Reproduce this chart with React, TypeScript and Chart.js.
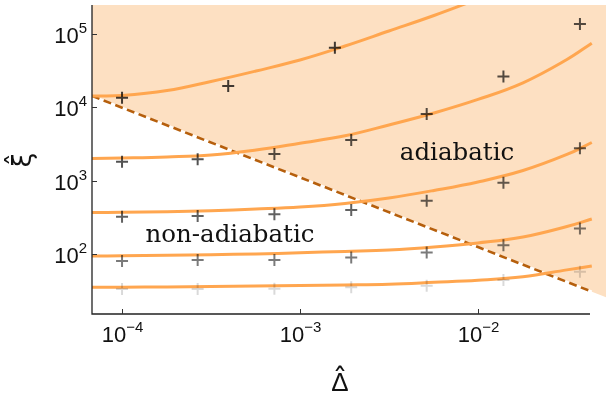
import React, { useEffect, useRef } from 'react';
import { Chart, registerables } from 'chart.js';

Chart.register(...registerables);

// Axis ranges (log-log)
const X_MIN = 6.78e-5;
const X_MAX = 5.24e-2;
const X_AXIS_END = 4.26e-2;
const Y_MIN = 15.1;
const Y_MAX = 2.49e5;

// Tick values
const xTickValues = [1e-4, 1e-3, 1e-2];
const xTickExps = ['\u22124', '\u22123', '\u22122'];
const yTickValues = [1e2, 1e3, 1e4, 1e5];
const yTickExps = ['2', '3', '4', '5'];

// Simulation markers
const markerX = [1e-4, 2.66e-4, 7.18e-4, 1.94e-3, 5.15e-3, 1.39e-2, 3.74e-2];
const row1X = [1e-4, 3.95e-4, 1.57e-3];
const row1Y = [1.35e4, 1.95e4, 6.5e4];
const row2Y = [1810, 1955, 2305, 3580, 8110, 2.63e4, 1.37e5];
const row3Y = [321, 329, 347, 397, 532, 936, 2760];
const row4Y = [80, 82.6, 82.6, 88.8, 104, 131, 221];
const row5Y = [33.2, 33.2, 33.5, 35.0, 36.8, 44.0, 57.1];

// Theory curves (read at regular positions)
const curve1X = [6.78e-5, 1e-4, 1.79e-4, 3.16e-4, 5.66e-4, 1e-3, 1.79e-3, 3.16e-3, 5.66e-3, 1e-2];
const curve1Y = [1.43e4, 1.45e4, 1.69e4, 2.25e4, 3.13e4, 4.42e4, 6.86e4, 1.1e5, 1.79e5, 3.0e5];
const curveX = [6.78e-5, 1e-4, 1.79e-4, 3.16e-4, 5.66e-4, 1e-3, 1.79e-3, 3.16e-3, 5.66e-3, 1e-2, 1.79e-2, 3.16e-2, 4.36e-2];
const curve2Y = [2000, 2030, 2100, 2230, 2610, 3230, 4080, 5740, 8360, 1.28e4, 2.16e4, 4.49e4, 7.5e4];
const curve3Y = [367, 369, 375, 388, 409, 436, 488, 579, 733, 957, 1370, 2270, 3310];
const curve4Y = [93.5, 94, 95.6, 97.5, 99.6, 103.5, 108, 113, 124, 141, 170, 236, 299];
const curve5Y = [35.0, 35.1, 35.3, 35.8, 36.4, 37.1, 37.7, 38.6, 40.9, 43.6, 48.7, 60.4, 68.4];

// Boundary line
const dashX = [6.78e-5, 4.36e-2];
const dashY = [1.43e4, 30.5];
const fillX = [6.78e-5, 5.24e-2];
const fillY = [1.43e4, 25.6];

const zip = (xs: number[], ys: number[]) => xs.map((x, i) => ({ x, y: ys[i] }));

const SHADE = '#fde0c2';
const CURVE = '#ffa64f';
const DASH = '#b65f0c';

const NUM_FONT = "'Liberation Sans', Arial, sans-serif";

function drawPow(ctx: CanvasRenderingContext2D, exp: string, left: number, baseY: number) {
  ctx.font = `22px ${NUM_FONT}`;
  ctx.textAlign = 'left';
  ctx.textBaseline = 'alphabetic';
  ctx.fillText('10', left, baseY);
  const w = ctx.measureText('10').width;
  ctx.font = `15px ${NUM_FONT}`;
  ctx.fillText(exp, left + w, baseY - 10);
}

function powWidth(ctx: CanvasRenderingContext2D, exp: string) {
  ctx.font = `22px ${NUM_FONT}`;
  const w1 = ctx.measureText('10').width;
  ctx.font = `15px ${NUM_FONT}`;
  return w1 + ctx.measureText(exp).width;
}

const axesPlugin = {
  id: 'customAxes',
  afterDraw(chart: any) {
    const { ctx, chartArea } = chart;
    const xs = chart.scales.x;
    const ys = chart.scales.y;
    ctx.save();
    // region labels
    ctx.fillStyle = '#111';
    ctx.font = "24.5px 'DejaVu Serif', serif";
    ctx.textAlign = 'center';
    ctx.textBaseline = 'alphabetic';
    ctx.fillText('adiabatic', 457, 160);
    ctx.fillText('non-adiabatic', 230, 242);

    // axis lines
    ctx.strokeStyle = '#222';
    ctx.lineWidth = 1.3;
    ctx.beginPath();
    ctx.moveTo(chartArea.left, chartArea.top);
    ctx.lineTo(chartArea.left, chartArea.bottom);
    ctx.lineTo(xs.getPixelForValue(X_AXIS_END), chartArea.bottom);
    ctx.stroke();

    // ticks
    ctx.lineWidth = 1;
    ctx.strokeStyle = '#333';
    ctx.fillStyle = '#111';
    xTickValues.forEach((v, i) => {
      const px = Math.round(xs.getPixelForValue(v)) + 0.5;
      ctx.beginPath();
      ctx.moveTo(px, chartArea.bottom);
      ctx.lineTo(px, chartArea.bottom - 5);
      ctx.stroke();
      const w = powWidth(ctx, xTickExps[i]);
      drawPow(ctx, xTickExps[i], px - w / 2, 342);
    });
    yTickValues.forEach((v, i) => {
      const py = Math.round(ys.getPixelForValue(v)) + 0.5;
      ctx.beginPath();
      ctx.moveTo(chartArea.left, py);
      ctx.lineTo(chartArea.left + 5, py);
      ctx.stroke();
      const w = powWidth(ctx, yTickExps[i]);
      drawPow(ctx, yTickExps[i], 87 - w, py + 8);
    });

    // axis titles
    ctx.textAlign = 'center';
    ctx.textBaseline = 'alphabetic';
    ctx.font = `26px ${NUM_FONT}`;
    ctx.fillText('\u0394', 340, 391);
    ctx.font = "30px 'DejaVu Sans', sans-serif";
    ctx.fillText('\u02C6', 340, 390);
    ctx.save();
    ctx.translate(24, 160);
    ctx.rotate(-Math.PI / 2);
    ctx.font = "26px 'DejaVu Sans', sans-serif";
    ctx.textBaseline = 'middle';
    ctx.fillText('\u03BE\u0302', 0, 0);
    ctx.restore();
    ctx.restore();
  },
};

const markerDs = (xs: number[], ys: number[], color: string) => ({
  data: zip(xs, ys),
  showLine: false,
  pointStyle: 'cross',
  pointRadius: 6,
  pointBorderWidth: 2,
  pointBorderColor: color,
  pointBackgroundColor: color,
  order: 0,
  clip: 0,
});

const curveDs = (xs: number[], ys: number[]) => ({
  data: zip(xs, ys),
  borderColor: CURVE,
  borderWidth: 3,
  pointRadius: 0,
  tension: 0.4,
  fill: false,
  order: 1,
  clip: 0,
});

export default function App() {
  const ref = useRef<HTMLCanvasElement>(null);
  useEffect(() => {
    if (!ref.current) return;
    const chart = new Chart(ref.current, {
      type: 'line',
      data: {
        datasets: [
          markerDs(row1X, row1Y, 'rgba(0,0,0,0.75)'),
          markerDs(markerX, row2Y, 'rgba(0,0,0,0.68)'),
          markerDs(markerX, row3Y, 'rgba(0,0,0,0.62)'),
          markerDs(markerX, row4Y, 'rgba(0,0,0,0.52)'),
          markerDs(markerX, row5Y, 'rgba(0,0,0,0.15)'),
          curveDs(curve1X, curve1Y),
          curveDs(curveX, curve2Y),
          curveDs(curveX, curve3Y),
          curveDs(curveX, curve4Y),
          curveDs(curveX, curve5Y),
          {
            data: zip(dashX, dashY),
            borderColor: DASH,
            borderWidth: 2.6,
            borderDash: [8, 4.5],
            pointRadius: 0,
            fill: false,
            order: 2,
          },
          {
            data: zip(dashX, dashY),
            borderColor: '#ffffff',
            borderWidth: 2.2,
            pointRadius: 0,
            fill: false,
            order: 3,
          },
          {
            data: zip(fillX, fillY),
            borderWidth: 0,
            borderColor: 'rgba(0,0,0,0)',
            backgroundColor: SHADE,
            pointRadius: 0,
            fill: 'end',
            order: 4,
          },
        ] as any,
      },
      options: {
        animation: false,
        responsive: false,
        events: [],
        layout: { autoPadding: false, padding: { left: 92, top: 5, right: 0, bottom: 80 } },
        plugins: { legend: { display: false }, tooltip: { enabled: false } },
        scales: {
          x: { type: 'logarithmic', min: X_MIN, max: X_MAX, display: false },
          y: { type: 'logarithmic', min: Y_MIN, max: Y_MAX, display: false },
        },
      } as any,
      plugins: [axesPlugin],
    });
    return () => chart.destroy();
  }, []);
  return (
    <div style={{ position: 'absolute', left: 0, top: 0, width: 606, height: 394, background: '#fff' }}>
      <canvas ref={ref} width={606} height={394} style={{ display: 'block' }} />
    </div>
  );
}
